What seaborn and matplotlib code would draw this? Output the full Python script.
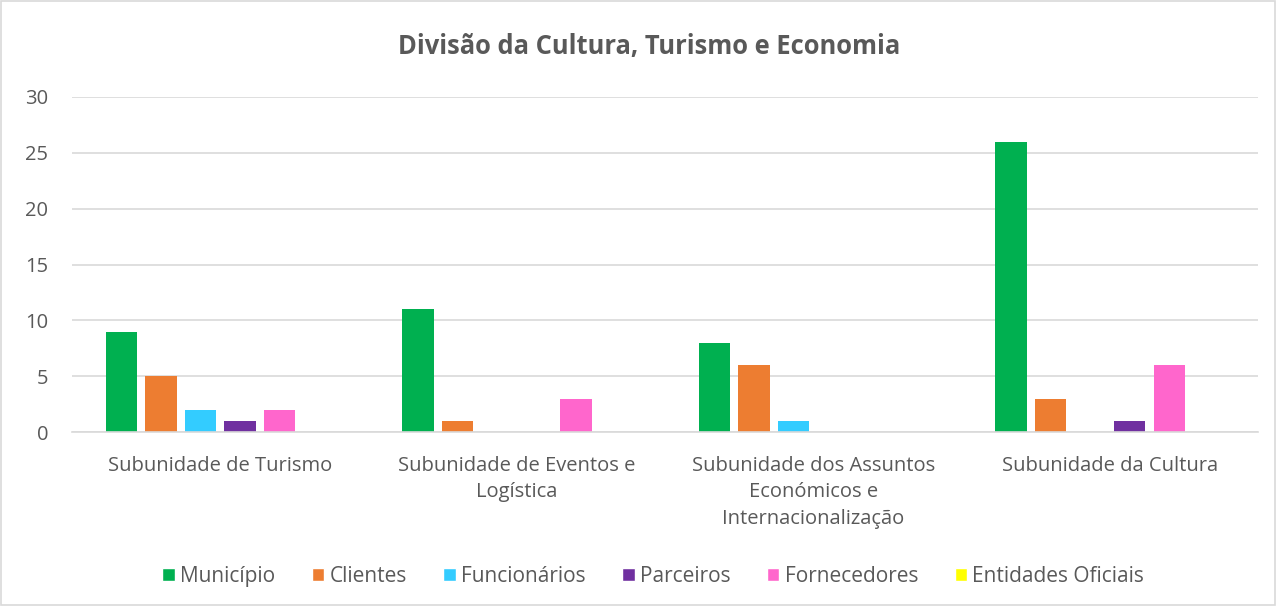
import pandas as pd
import seaborn as sns
import matplotlib.pyplot as plt

# chart data
subunidades = ['Subunidade de Turismo',
               'Subunidade de Eventos e\nLogística',
               'Subunidade dos Assuntos\nEconómicos e\nInternacionalização',
               'Subunidade da Cultura']
series = ['Município', 'Clientes', 'Funcionários', 'Parceiros', 'Fornecedores', 'Entidades Oficiais']
municipio = [9, 11, 8, 26]
clientes = [5, 1, 6, 3]
funcionarios = [2, 0, 1, 0]
parceiros = [1, 0, 0, 1]
fornecedores = [2, 3, 0, 6]
entidades = [0, 0, 0, 0]
colors = ['#00B050', '#ED7D31', '#33CCFF', '#7030A0', '#FF66CC', '#FFFF00']

values = [municipio, clientes, funcionarios, parceiros, fornecedores, entidades]
rows = []
for s, vals in zip(series, values):
    for sub, v in zip(subunidades, vals):
        rows.append(dict(Subunidade=sub, Grupo=s, Valor=v))
df = pd.DataFrame(rows)

sns.set_style('white')
plt.rcParams['font.family'] = ['Open Sans', 'DejaVu Sans']

fig = plt.figure(figsize=(12.76, 6.06), dpi=100)
ax = fig.add_axes([0.0564, 0.287, 0.9296, 0.553])

sns.barplot(data=df, x='Subunidade', y='Valor', hue='Grupo', hue_order=series,
            palette=colors, saturation=1, width=0.8, ax=ax, legend=True)

# narrow bars a bit (Excel style gap between series)
for p in ax.patches:
    w = p.get_width()
    if w > 0 and w < 0.5:
        nw = w * 0.79
        p.set_x(p.get_x() + (w - nw) / 2)
        p.set_width(nw)
        p.set_linewidth(0)

ax.set_ylim(0, 30)
ax.set_yticks(range(0, 31, 5))
ax.set_xlim(-0.5, 3.5)
ax.yaxis.grid(True, color='#D9D9D9', linewidth=1.2)
ax.set_axisbelow(True)
for s in ['top', 'right', 'left']:
    ax.spines[s].set_visible(False)
ax.spines['bottom'].set_color('#D9D9D9')
ax.spines['bottom'].set_linewidth(1.2)
ax.tick_params(axis='both', length=0, labelsize=14.5, colors='#595959')
ax.tick_params(axis='y', pad=17)
ax.tick_params(axis='x', pad=17)
for t in ax.get_xticklabels():
    t.set_linespacing(1.45)
ax.set_xlabel('')
ax.set_ylabel('')

fig.text(0.509, 0.924, 'Divisão da Cultura, Turismo e Economia', fontsize=18.4,
         fontweight='bold', color='#595959', ha='center', va='center')

handles, labels = ax.get_legend_handles_labels()
ax.get_legend().remove()
fig.legend(handles, labels, loc='center', bbox_to_anchor=(0.512, 0.049), ncol=6,
           frameon=False, fontsize=15, labelcolor='#595959', handlelength=0.6,
           handleheight=0.6, handletextpad=0.25, columnspacing=1.75)

# chart border
fig.patches.append(plt.Rectangle((0.001, 0.002), 0.998, 0.997, transform=fig.transFigure,
                                 fill=False, edgecolor='#D9D9D9', linewidth=1.2))

fig.savefig('out.png', dpi=100)
